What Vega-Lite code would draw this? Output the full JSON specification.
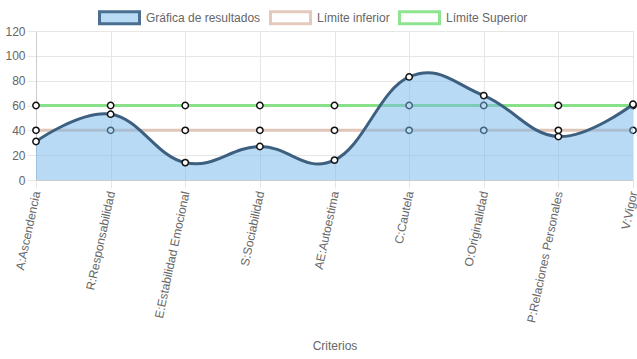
{
  "$schema": "https://vega.github.io/schema/vega-lite/v6.json",
  "width": 597,
  "height": 149,
  "autosize": "none",
  "padding": {"left": 36, "top": 31, "right": 4, "bottom": 179},
  "background": "white",
  "config": {
    "view": {"stroke": null},
    "font": "Liberation Sans",
    "axis": {"labelFont": "Liberation Sans", "labelFontSize": 12, "labelColor": "#666666", "titleFont": "Liberation Sans", "titleFontSize": 12, "titleColor": "#666666", "titleFontWeight": "normal", "gridColor": "#e6e6e6", "tickColor": "#e6e6e6", "domainColor": "#cccccc"}
  },
  "data": {"values": [
    {"criterio": "A:Ascendencia", "serie": "Gráfica de resultados", "valor": 31},
    {"criterio": "R:Responsabilidad", "serie": "Gráfica de resultados", "valor": 53},
    {"criterio": "E:Estabilidad Emocional", "serie": "Gráfica de resultados", "valor": 14},
    {"criterio": "S:Sociabilidad", "serie": "Gráfica de resultados", "valor": 27},
    {"criterio": "AE:Autoestima", "serie": "Gráfica de resultados", "valor": 16},
    {"criterio": "C:Cautela", "serie": "Gráfica de resultados", "valor": 83},
    {"criterio": "O:Originalidad", "serie": "Gráfica de resultados", "valor": 68},
    {"criterio": "P:Relaciones Personales", "serie": "Gráfica de resultados", "valor": 35},
    {"criterio": "V:Vigor", "serie": "Gráfica de resultados", "valor": 61},
    {"criterio": "A:Ascendencia", "serie": "Límite inferior", "valor": 40},
    {"criterio": "R:Responsabilidad", "serie": "Límite inferior", "valor": 40},
    {"criterio": "E:Estabilidad Emocional", "serie": "Límite inferior", "valor": 40},
    {"criterio": "S:Sociabilidad", "serie": "Límite inferior", "valor": 40},
    {"criterio": "AE:Autoestima", "serie": "Límite inferior", "valor": 40},
    {"criterio": "C:Cautela", "serie": "Límite inferior", "valor": 40},
    {"criterio": "O:Originalidad", "serie": "Límite inferior", "valor": 40},
    {"criterio": "P:Relaciones Personales", "serie": "Límite inferior", "valor": 40},
    {"criterio": "V:Vigor", "serie": "Límite inferior", "valor": 40},
    {"criterio": "A:Ascendencia", "serie": "Límite Superior", "valor": 60},
    {"criterio": "R:Responsabilidad", "serie": "Límite Superior", "valor": 60},
    {"criterio": "E:Estabilidad Emocional", "serie": "Límite Superior", "valor": 60},
    {"criterio": "S:Sociabilidad", "serie": "Límite Superior", "valor": 60},
    {"criterio": "AE:Autoestima", "serie": "Límite Superior", "valor": 60},
    {"criterio": "C:Cautela", "serie": "Límite Superior", "valor": 60},
    {"criterio": "O:Originalidad", "serie": "Límite Superior", "valor": 60},
    {"criterio": "P:Relaciones Personales", "serie": "Límite Superior", "valor": 60},
    {"criterio": "V:Vigor", "serie": "Límite Superior", "valor": 60}
  ]},
  "encoding": {
    "x": {"field": "criterio", "type": "nominal", "sort": null,
      "scale": {"type": "point", "padding": 0},
      "axis": {"title": "Criterios", "labelAngle": -78, "labelAlign": "right", "labelBaseline": "middle", "tickSize": 8, "labelPadding": 3, "grid": true, "titleY": 160, "titleBaseline": "top"}},
    "y": {"field": "valor", "type": "quantitative",
      "scale": {"domain": [0, 120], "nice": false},
      "axis": {"title": null, "values": [0, 20, 40, 60, 80, 100, 120], "tickSize": 9, "labelPadding": 2}}
  },
  "layer": [
    {
      "mark": {"type": "square", "opacity": 0},
      "encoding": {
        "fill": {"field": "serie", "type": "nominal",
          "scale": {"domain": ["Gráfica de resultados", "Límite inferior", "Límite Superior"], "range": ["#b9daf5", "#ffffff", "#ffffff"]},
          "legend": {"title": null, "orient": "none", "direction": "horizontal", "legendX": 62, "legendY": -35, "symbolType": "M-1,-0.3H1V0.3H-1Z", "symbolSize": 1600, "symbolStrokeWidth": 3, "symbolOpacity": 1, "labelFont": "Liberation Sans", "labelFontSize": 12, "labelColor": "#666666", "labelOffset": 5, "columnPadding": 3}},
        "stroke": {"field": "serie", "type": "nominal",
          "scale": {"domain": ["Gráfica de resultados", "Límite inferior", "Límite Superior"], "range": ["#4a6f91", "#e3cabd", "#8fe48f"]},
          "legend": {"title": null, "orient": "none", "direction": "horizontal", "legendX": 62, "legendY": -35, "symbolType": "M-1,-0.3H1V0.3H-1Z", "symbolSize": 1600, "symbolStrokeWidth": 3, "symbolOpacity": 1, "labelFont": "Liberation Sans", "labelFontSize": 12, "labelColor": "#666666", "labelOffset": 5, "columnPadding": 3}}
      }
    },
    {
      "transform": [{"filter": "datum.serie === 'Límite Superior'"}],
      "mark": {"type": "line", "color": "#88e088", "strokeWidth": 3}
    },
    {
      "transform": [{"filter": "datum.serie === 'Límite Superior'"}],
      "mark": {"type": "point", "filled": true, "fill": "#ffffff", "stroke": "#111111", "strokeWidth": 1.5, "size": 40, "opacity": 1}
    },
    {
      "transform": [{"filter": "datum.serie === 'Límite inferior'"}],
      "mark": {"type": "line", "color": "#e0c6b8", "strokeWidth": 3}
    },
    {
      "transform": [{"filter": "datum.serie === 'Límite inferior'"}],
      "mark": {"type": "point", "filled": true, "fill": "#ffffff", "stroke": "#111111", "strokeWidth": 1.5, "size": 40, "opacity": 1}
    },
    {
      "transform": [{"filter": "datum.serie === 'Gráfica de resultados'"}],
      "mark": {"type": "area", "interpolate": "cardinal", "tension": -0.2, "fill": "#73b5eb", "fillOpacity": 0.5, "line": {"color": "#3e6080", "strokeWidth": 3, "interpolate": "cardinal", "tension": -0.2}}
    },
    {
      "transform": [{"filter": "datum.serie === 'Gráfica de resultados'"}],
      "mark": {"type": "point", "filled": true, "fill": "#ffffff", "stroke": "#111111", "strokeWidth": 1.5, "size": 40, "opacity": 1}
    }
  ]
}
